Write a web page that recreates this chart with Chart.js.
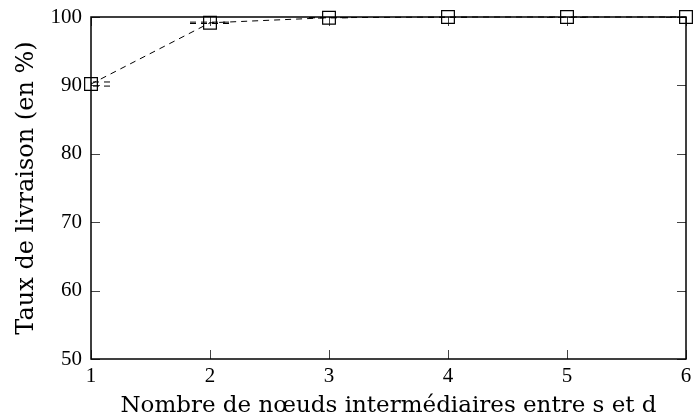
<!DOCTYPE html>
<html lang="fr">
<head>
  <meta charset="UTF-8">
  <title>Taux de livraison</title>
  <script src="https://cdn.jsdelivr.net/npm/chart.js"></script>
  <style>
    body { margin: 0; background: #fff; }
    #wrap { width: 698px; height: 420px; }
  </style>
</head>
<body>
  <div id="wrap"><canvas id="chart" width="698" height="420"></canvas></div>
  <script>
    // number of intermediate nodes between s and d
    const nodes = [1, 2, 3, 4, 5, 6];
    // delivery rate (%) and its error range
    const rate = [90.2, 99.15, 99.9, 100, 100, 100];
    const rateLow = [89.9, 99.05, 99.9, 100, 100, 100];
    const rateHigh = [90.5, 99.25, 99.9, 100, 100, 100];
    const yTicks = [50, 60, 70, 80, 90, 100];

    const serif = "'Liberation Serif', 'Times New Roman', serif";
    const titleFont = "'DejaVu Serif', serif";

    // y error bars drawn with the same dashed style, clipped to the plot area
    const errorBars = {
      id: 'errorBars',
      afterDatasetsDraw(chart) {
        const { ctx, chartArea: a, scales: { x, y } } = chart;
        ctx.save();
        ctx.beginPath();
        ctx.rect(a.left, a.top, a.right - a.left, a.bottom - a.top);
        ctx.clip();
        ctx.strokeStyle = '#000';
        ctx.lineWidth = 1;
        ctx.setLineDash([6, 5]);
        nodes.forEach((n, i) => {
          const px = x.getPixelForValue(n);
          const lo = y.getPixelForValue(rateLow[i]);
          const hi = y.getPixelForValue(rateHigh[i]);
          ctx.beginPath();
          ctx.moveTo(px, lo); ctx.lineTo(px, hi);
          ctx.moveTo(px - 20, lo); ctx.lineTo(px + 20, lo);
          ctx.moveTo(px - 20, hi); ctx.lineTo(px + 20, hi);
          ctx.stroke();
        });
        ctx.restore();
      }
    };

    // gnuplot-like box with inward ticks on all four sides
    const frame = {
      id: 'frame',
      beforeDatasetsDraw(chart) {
        const { ctx, chartArea: a, scales: { x, y } } = chart;
        const len = 9;
        ctx.save();
        ctx.strokeStyle = '#444';
        ctx.lineWidth = 1;
        ctx.beginPath();
        x.ticks.forEach(t => {
          const px = Math.round(x.getPixelForValue(t.value)) + 0.5;
          ctx.moveTo(px, a.bottom); ctx.lineTo(px, a.bottom - len);
          ctx.moveTo(px, a.top); ctx.lineTo(px, a.top + len);
        });
        y.ticks.forEach(t => {
          const py = Math.round(y.getPixelForValue(t.value)) + 0.5;
          ctx.moveTo(a.left, py); ctx.lineTo(a.left + len, py);
          ctx.moveTo(a.right, py); ctx.lineTo(a.right - len, py);
        });
        ctx.stroke();
        ctx.strokeStyle = '#000';
        ctx.lineWidth = 1.5;
        ctx.strokeRect(a.left, a.top, a.right - a.left, a.bottom - a.top);
        ctx.restore();
      }
    };

    new Chart(document.getElementById('chart'), {
      type: 'line',
      data: {
        datasets: [{
          data: nodes.map((n, i) => ({ x: n, y: rate[i] })),
          borderColor: '#000',
          borderWidth: 1,
          borderDash: [6, 5],
          pointStyle: 'rect',
          pointRadius: 9,
          pointBorderWidth: 1.2,
          pointBorderColor: '#000',
          pointBackgroundColor: 'rgba(0,0,0,0)',
          tension: 0,
          clip: false
        }]
      },
      options: {
        responsive: false,
        animation: false,
        layout: { padding: { top: 17, right: 12, left: 0, bottom: 0 } },
        plugins: { legend: { display: false }, tooltip: { enabled: false } },
        scales: {
          x: {
            type: 'linear', min: 1, max: 6,
            grid: { display: false, drawTicks: false },
            border: { display: false },
            ticks: { stepSize: 1, padding: 5, color: '#000', font: { family: serif, size: 21 } },
            title: { display: true, text: 'Nombre de nœuds intermédiaires entre s et d', color: '#000',
                     font: { family: titleFont, size: 23 }, padding: { top: 0, bottom: 0 } },
            afterFit(s) { s.height = 61; }
          },
          y: {
            min: 50, max: 100,
            afterBuildTicks(s) { s.ticks = yTicks.map(v => ({ value: v })); },
            grid: { display: false, drawTicks: false },
            border: { display: false },
            ticks: { padding: 9, color: '#000', font: { family: serif, size: 21, lineHeight: 0.6 } },
            title: { display: true, text: 'Taux de livraison (en %)', color: '#000',
                     font: { family: titleFont, size: 24 }, padding: { top: 12, bottom: 4 } },
            afterFit(s) { s.width = 91; }
          }
        }
      },
      plugins: [frame, errorBars]
    });
  </script>
</body>
</html>
